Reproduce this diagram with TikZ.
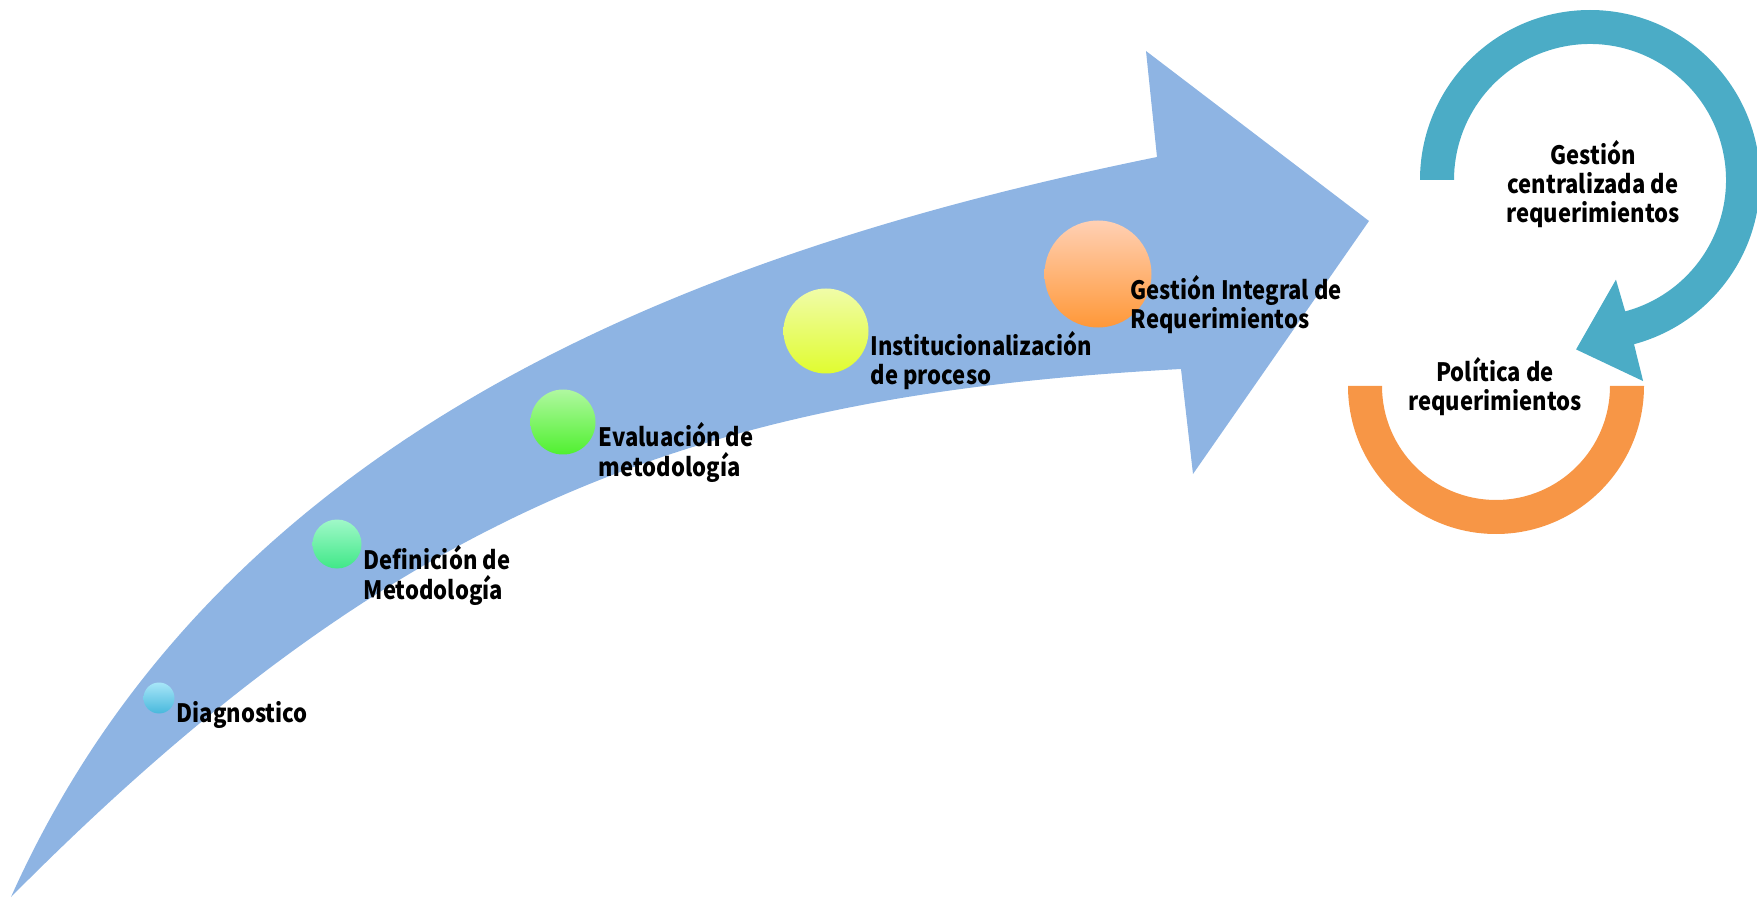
\documentclass[tikz,border=0pt]{standalone}
\usepackage{fontspec}
\setmainfont{Noto Sans CJK JP}[FakeStretch=0.87]
\usetikzlibrary{calc}
\definecolor{arrowblue}{HTML}{8EB4E3}
\definecolor{ringblue}{HTML}{4BACC6}
\definecolor{ringorange}{HTML}{F79646}
\begin{document}
\begin{tikzpicture}[stage/.style={circle, inner sep=0pt, minimum size=#1},
    lbl/.style={font=\bfseries\fontsize{7.2}{8.3}\selectfont, align=left, inner sep=0pt, anchor=base west}]
    \useasboundingbox (0, 0) rectangle (17.57, 8.97);

    \fill[arrowblue] (0.11, 0) .. controls (2.20, 4.67) and (7.00, 6.47) .. (11.57, 7.40)
        -- (11.46, 8.46) -- (13.69, 6.76) -- (11.93, 4.23) -- (11.81, 5.28)
        .. controls (7.00, 5.02) and (4.00, 3.92) .. (0.11, 0) -- cycle;

    \node[stage=0.31cm, top color={rgb,255:red,168;green,230;blue,248}, bottom color={rgb,255:red,72;green,184;blue,220}] (st-1) at (1.59, 1.99) {};
    \node[stage=0.49cm, top color={rgb,255:red,160;green,248;blue,200}, bottom color={rgb,255:red,64;green,232;blue,136}] (st-2) at (3.37, 3.53) {};
    \node[stage=0.65cm, top color={rgb,255:red,176;green,248;blue,160}, bottom color={rgb,255:red,80;green,240;blue,48}] (st-3) at (5.63, 4.75) {};
    \node[stage=0.85cm, top color={rgb,255:red,240;green,252;blue,168}, bottom color={rgb,255:red,224;green,252;blue,48}] (st-4) at (8.26, 5.66) {};
    \node[stage=1.07cm, top color={rgb,255:red,255;green,208;blue,180}, bottom color={rgb,255:red,255;green,152;blue,56}] (st-5) at (10.98, 6.23) {};

    % base = last line
    \node[lbl] (lb-1) at (1.76, 1.74) {Diagnostico};
    \node[lbl] (lb-2) at (3.63, 2.98) {Definición de\\Metodología};
    \node[lbl] (lb-3) at (5.98, 4.21) {Evaluación de\\metodología};
    \node[lbl] (lb-4) at (8.70, 5.12) {Institucionalización\\de proceso};
    \node[lbl] (lb-5) at (11.30, 5.68) {Gestión Integral de\\Requerimientos};

    % ciclo
    \coordinate (cyc-1) at (15.90, 7.17);
    \coordinate (cyc-2) at (14.96, 5.11);

    \fill[ringblue] ($(cyc-1)+(180:1.70)$) arc[start angle=180, end angle=-75, radius=1.70]
        -- ($(cyc-1)+(-75.2:2.08)$) -- ($(cyc-1)+(-94.7:1.70)$) -- ($(cyc-1)+(-75.4:1.03)$)
        -- ($(cyc-1)+(-75:1.36)$) arc[start angle=-75, end angle=180, radius=1.36] -- cycle;

    \fill[ringorange] ($(cyc-2)+(180:1.48)$) arc[start angle=180, end angle=360, radius=1.48]
        -- ($(cyc-2)+(0:1.14)$) arc[start angle=360, end angle=180, radius=1.14] -- cycle;

    \node[lbl, align=center, anchor=base] (cy-1) at (15.93, 6.74) {Gestión\\centralizada de\\requerimientos};
    \node[lbl, align=center, anchor=base] (cy-2) at (14.95, 4.86) {Política de\\requerimientos};
\end{tikzpicture}
\end{document}
